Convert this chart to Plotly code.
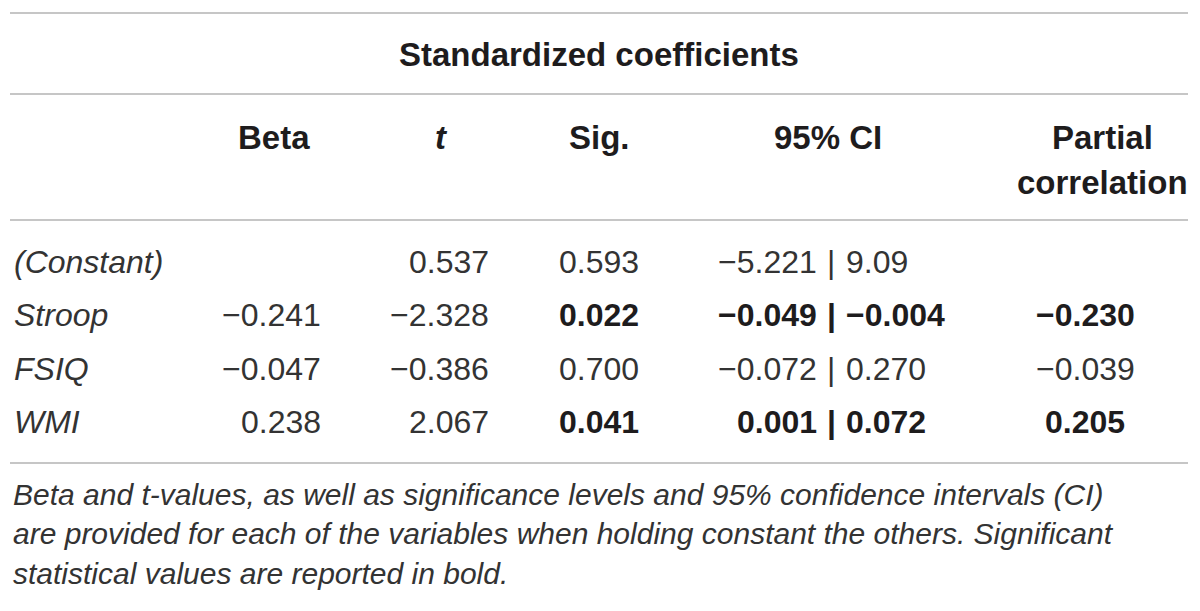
import plotly.graph_objects as go

# table content, as printed
variables = ["(Constant)", "Stroop", "FSIQ", "WMI"]
beta = ["", "−0.241", "−0.047", "0.238"]
t_values = ["0.537", "−2.328", "−0.386", "2.067"]
sig = ["0.593", "0.022", "0.700", "0.041"]
ci_low = ["−5.221", "−0.049", "−0.072", "0.001"]
ci_high = ["9.09", "−0.004", "0.270", "0.072"]
partial = ["", "−0.230", "−0.039", "0.205"]
significant = [False, True, False, True]

group_title = "Standardized coefficients"
headers = ["Beta", "<i>t</i>", "Sig.", "95% CI", "Partial<br>correlation"]
footnote = [
    "Beta and t-values, as well as significance levels and 95% confidence intervals (CI)",
    "are provided for each of the variables when holding constant the others. Significant",
    "statistical values are reported in bold.",
]

FONT = "Liberation Sans"
INK = "#1e1c1d"
BODY = "#333333"
RULE = "#c6c6c6"
W, H = 1200, 611
PAD = 8  # default body margin of the html page

fig = go.Figure()
fig.add_trace(go.Scatter(x=[PAD, W], y=[PAD, H], mode="markers", marker=dict(opacity=0),
                         hoverinfo="skip", showlegend=False))

ann = []


def text(x, y, s, anchor="center", size=32, bold=False, italic=False, color=BODY):
    if bold:
        s = f"<b>{s}</b>"
    if italic:
        s = f"<i>{s}</i>"
    ann.append(dict(x=x, y=y, text=s, xanchor=anchor, yanchor="middle", showarrow=False,
                    font=dict(family=FONT, size=size, color=color)))


# horizontal rules
for y in [13, 94, 220, 463]:
    fig.add_shape(type="line", x0=10, x1=1188, y0=y, y1=y, line=dict(color=RULE, width=2))

text(599, 54, group_title, size=33, bold=True, color=INK)

header_x = [274, 441, 599, 828, 1102]
for hx, h in zip(header_x, headers):
    if "<br>" in h:
        a, b = h.split("<br>")
        text(hx, 137, a, size=33, bold=True, color=INK)
        text(hx, 182, b, size=33, bold=True, color=INK)
    else:
        text(hx, 137, h, size=33, bold=True, color=INK)

for i, name in enumerate(variables):
    y = 261.5 + 53.5 * i
    b = significant[i]
    col = INK if b else BODY
    text(12, y, name, anchor="left", italic=True)
    text(323, y, beta[i], anchor="right")
    text(491, y, t_values[i], anchor="right")
    text(599, y, sig[i], bold=b, color=col)
    text(819, y, ci_low[i], anchor="right", bold=b, color=col)
    text(831, y, "|", bold=b, color=col)
    text(844, y, ci_high[i], anchor="left", bold=b, color=col)
    text(1085, y, partial[i], bold=b, color=col)

for j, line in enumerate(footnote):
    text(11, 494 + 39.5 * j, line, anchor="left", size=30, italic=True)

fig.update_layout(
    annotations=ann,
    width=W - PAD,
    height=H - PAD,
    margin=dict(l=0, r=0, t=0, b=0),
    paper_bgcolor="white",
    plot_bgcolor="white",
    xaxis=dict(range=[PAD, W], visible=False, fixedrange=True),
    yaxis=dict(range=[H, PAD], visible=False, fixedrange=True),
    showlegend=False,
)

fig.write_html("out.html", config={"displayModeBar": False})
